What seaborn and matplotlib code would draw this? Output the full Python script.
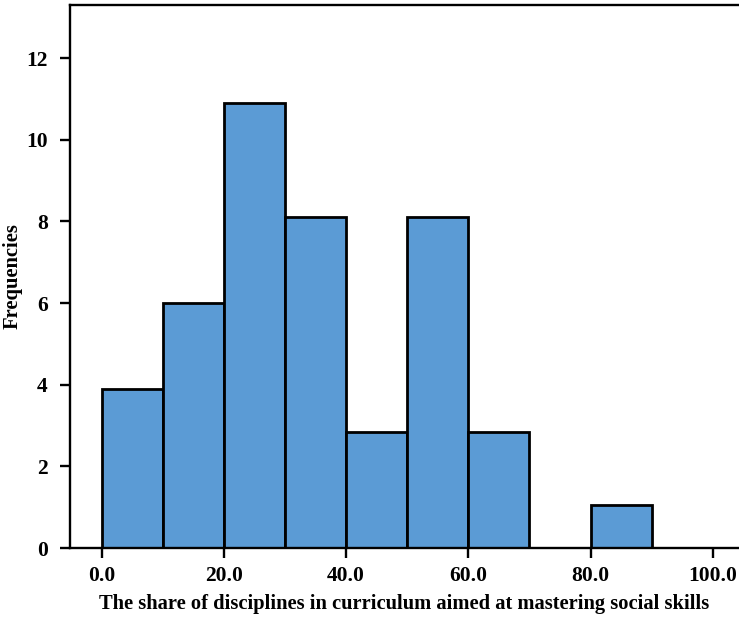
import numpy as np
import pandas as pd
import seaborn as sns
import matplotlib
import matplotlib.pyplot as plt

matplotlib.use('Agg')

# bins of the share (%) and the frequencies
bin_edges = [0, 10, 20, 30, 40, 50, 60, 70, 80, 90, 100]
bin_mids = [5, 15, 25, 35, 45, 55, 65, 75, 85, 95]
frequencies = [3.9, 6.0, 10.9, 8.1, 2.85, 8.1, 2.85, 0, 1.05, 0]
x_ticks = [0, 20, 40, 60, 80, 100]
x_tick_labels = ['0.0', '20.0', '40.0', '60.0', '80.0', '100.0']
y_ticks = [0, 2, 4, 6, 8, 10, 12]

sns.set_style("ticks")
plt.rcParams['font.family'] = ['Liberation Serif', 'DejaVu Serif']
plt.rcParams['font.weight'] = 'bold'
plt.rcParams['text.color'] = 'black'
plt.rcParams['axes.labelcolor'] = 'black'

df = pd.DataFrame({'share': bin_mids, 'freq': frequencies})

fig = plt.figure(figsize=(7.39, 6.22), dpi=100)
ax = fig.add_axes([70 / 739, 74 / 622, 669 / 739, 543 / 622])

sns.histplot(data=df, x='share', weights='freq', bins=bin_edges, ax=ax,
             color='#5B9BD5', alpha=1, edgecolor='black', linewidth=2.0)

ax.set_xlim(-5.2, 104.3)
ax.set_ylim(0, 13.3)
ax.set_xticks(x_ticks)
ax.set_xticklabels(x_tick_labels)
ax.set_yticks(y_ticks)

ax.spines['right'].set_visible(False)
for side in ['left', 'bottom', 'top']:
    ax.spines[side].set_linewidth(1.7)
    ax.spines[side].set_color('black')
ax.tick_params(axis='both', direction='out', length=7, width=1.7,
               labelsize=15.5, colors='black')
ax.tick_params(axis='y', pad=9)
ax.tick_params(axis='x', pad=6)

ax.set_xlabel('The share of disciplines in curriculum aimed at mastering social skills',
              fontsize=14.8, fontweight='bold', labelpad=6)
ax.set_ylabel('Frequencies', fontsize=14.8, fontweight='bold')
ax.yaxis.set_label_coords(-0.071, 0.5)

fig.savefig('out.png', dpi=100)
